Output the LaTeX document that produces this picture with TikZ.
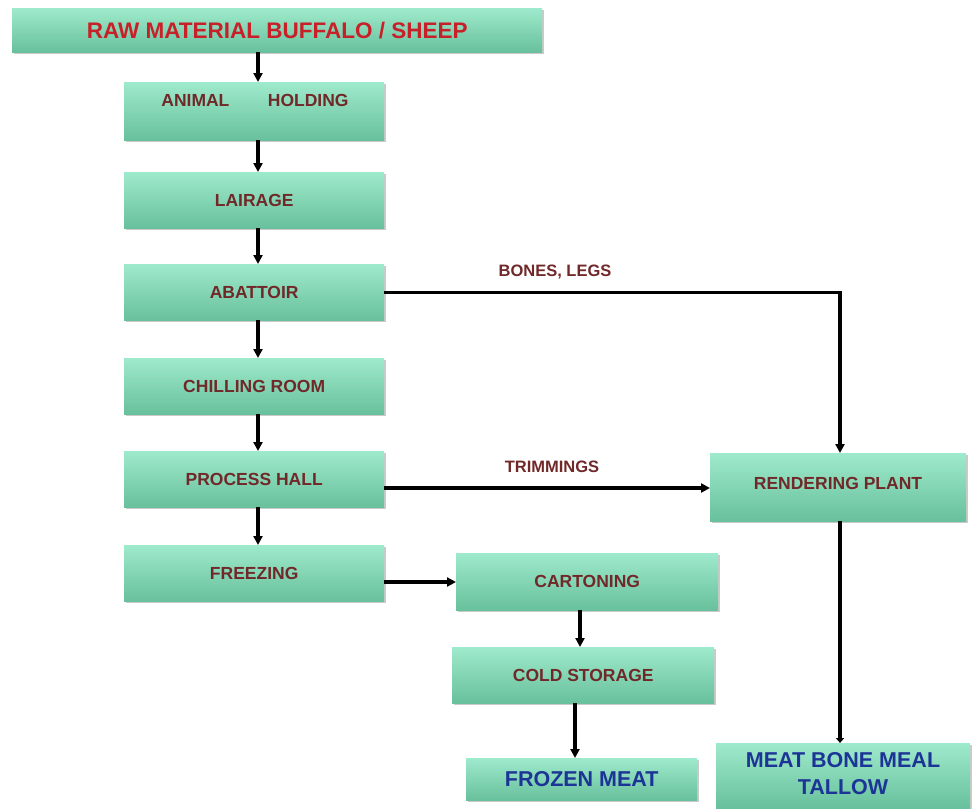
\documentclass[tikz,border=0pt]{standalone}
\usepackage{fontspec}
\setmainfont{Liberation Sans}
\usetikzlibrary{arrows.meta,shadows,positioning}
\definecolor{boxtop}{RGB}{158,234,204}
\definecolor{boxbot}{RGB}{104,192,156}
\definecolor{titlered}{RGB}{200,32,40}
\definecolor{lbl}{RGB}{112,40,40}
\definecolor{outblue}{RGB}{28,52,150}
\tikzset{
  box/.style={rectangle, top color=boxtop, bottom color=boxbot, draw=none,
    drop shadow={shadow xshift=1.5pt, shadow yshift=-2pt, fill=black!35, opacity=0.6},
    inner sep=0pt, font=\bfseries\fontsize{17.5}{20}\selectfont, text=lbl},
  outtxt/.style={font=\bfseries\fontsize{21.5}{27}\selectfont, text=outblue, align=center},
  lbltxt/.style={font=\bfseries\fontsize{16.5}{19}\selectfont, text=lbl},
  flow/.style={line width=3.4pt, -{Triangle[length=9pt,width=9pt]}},
  plain/.style={line width=3.4pt}
}
\newcommand{\bx}[6]{\node[box, minimum width=#4-#2, minimum height=#5-#3, anchor=north west] (#1) at (#2,#3) {#6};}
\begin{document}
\begin{tikzpicture}[x=1pt,y=-1pt]
\useasboundingbox (0,0) rectangle (976,808);
% boxes
\bx{raw}{12}{8}{542}{52}{\textcolor{titlered}{\fontsize{22.5}{25}\selectfont RAW MATERIAL BUFFALO / SHEEP}}
\bx{ah}{124}{82}{384}{140}{}
\node[lbltxt, font=\bfseries\fontsize{17.5}{20}\selectfont] (ahT) at (255,100) {ANIMAL\hspace{2.2em}HOLDING};
\bx{lai}{124}{172}{384}{228}{LAIRAGE}
\bx{aba}{124}{264}{384}{320}{ABATTOIR}
\bx{chi}{124}{358}{384}{414}{CHILLING ROOM}
\bx{pro}{124}{451}{384}{507}{PROCESS HALL}
\bx{fre}{124}{545}{384}{601}{FREEZING}
\bx{car}{456}{553}{718}{610}{CARTONING}
\bx{col}{452}{647}{714}{703}{COLD STORAGE}
\bx{fro}{466}{758}{697}{800}{}
\node[outtxt] (froT) at (fro.center) {FROZEN MEAT};
\bx{ren}{710}{453}{966}{521}{}
\node[lbltxt, font=\bfseries\fontsize{17.5}{20}\selectfont] (renT) at (838,483) {RENDERING PLANT};
\bx{mbm}{716}{743}{970}{808}{}
\node[outtxt] (mbmT) at (843,774) {MEAT BONE MEAL\\TALLOW};
% coordinates
\coordinate (c1) at (258,52);
\coordinate (c2) at (840,293);
% connectors
\draw[flow] (raw.south -| c1) -- (ah.north -| c1);
\draw[flow] (ah.south -| c1) -- (lai.north -| c1);
\draw[flow] (lai.south -| c1) -- (aba.north -| c1);
\draw[flow] (aba.south -| c1) -- (chi.north -| c1);
\draw[flow] (chi.south -| c1) -- (pro.north -| c1);
\draw[flow] (pro.south -| c1) -- (fre.north -| c1);
\draw[flow] (aba.east) -| (ren.north -| c2);
\node[lbltxt] (bl) at (555,272) {BONES, LEGS};
\coordinate (c3) at (384,488);
\draw[flow] (c3) -- (ren.west |- c3);
\node[lbltxt] (tr) at (552,467) {TRIMMINGS};
\coordinate (c4) at (384,582);
\draw[flow] (c4) -- (car.west |- c4);
\coordinate (c5) at (580,610);
\draw[flow] (c5) -- (col.north -| c5);
\coordinate (c6) at (575,703);
\draw[flow] (c6) -- (fro.north -| c6);
\draw[plain, -{Triangle[length=5pt,width=8pt]}] (ren.south -| c2) -- (mbm.north -| c2);
\end{tikzpicture}
\end{document}
